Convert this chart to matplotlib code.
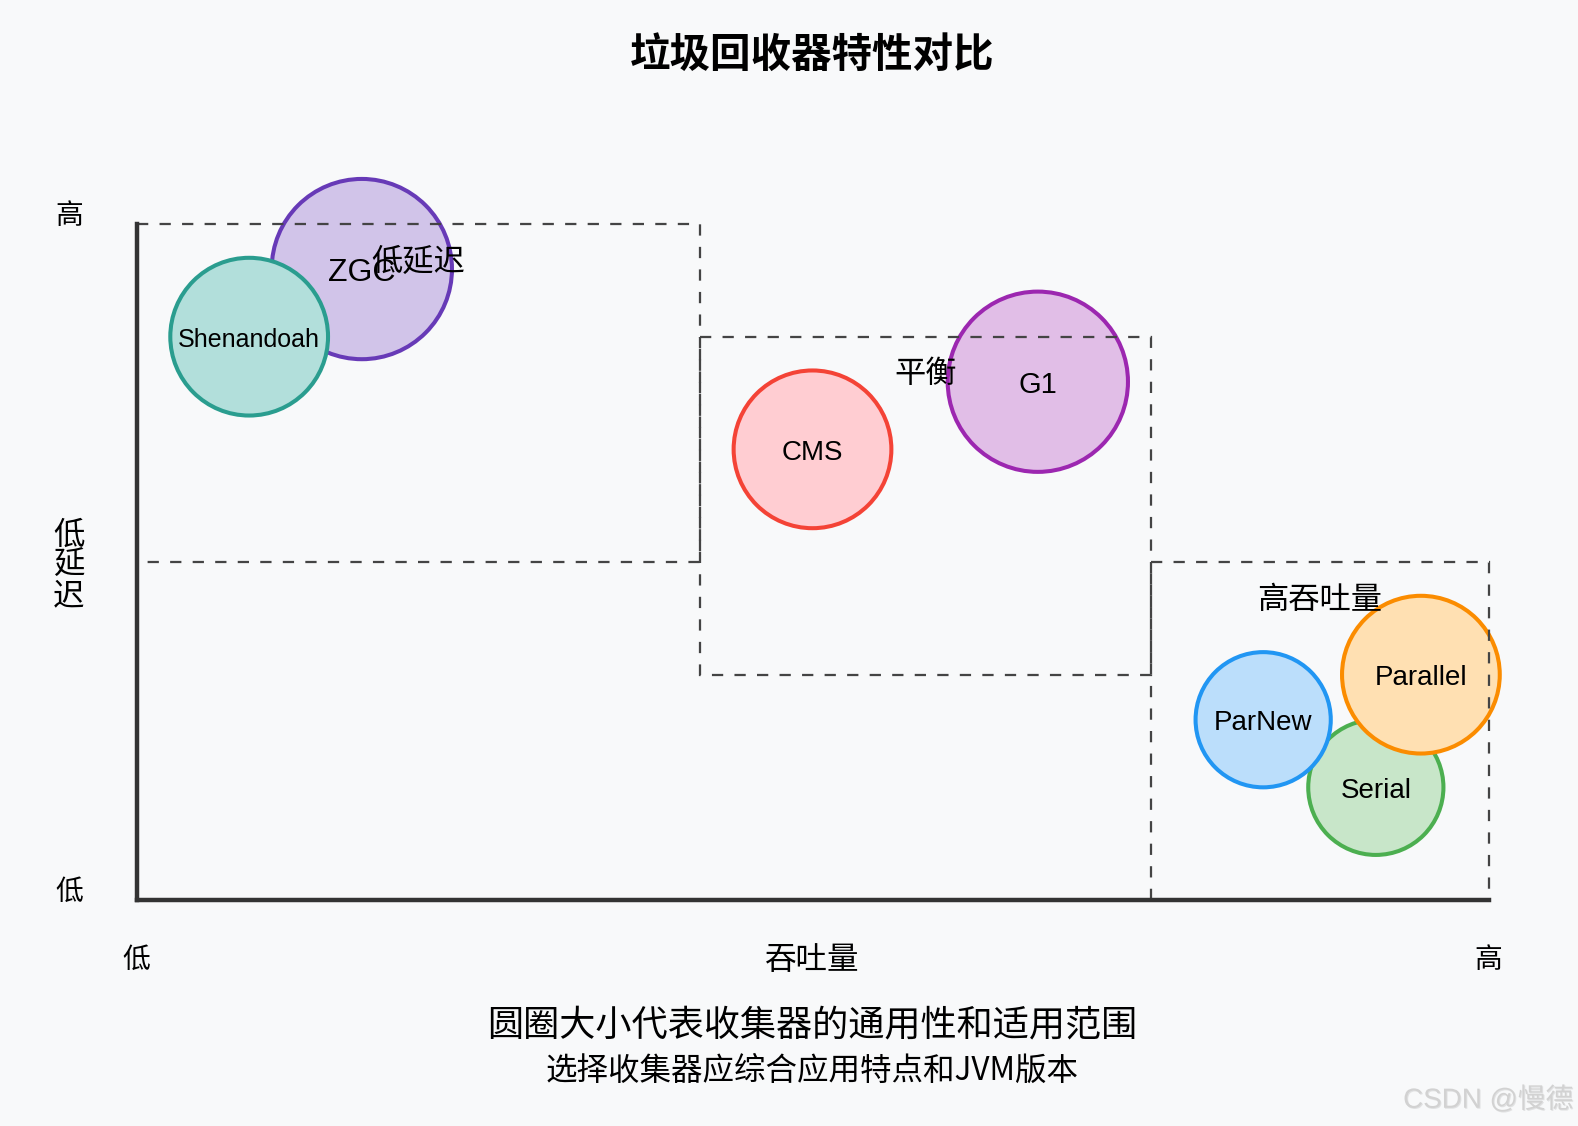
import matplotlib
matplotlib.use('Agg')
import matplotlib.pyplot as plt
from matplotlib.patches import Circle
from matplotlib import patheffects as pe

CJK = ['Noto Sans CJK SC', 'DejaVu Sans']
LATIN = ['Liberation Sans', 'Noto Sans CJK SC', 'DejaVu Sans']

# ---------------- data ----------------
title = '垃圾回收器特性对比'
collectors = ['ZGC', 'Shenandoah', 'CMS', 'G1', 'Serial', 'ParNew', 'Parallel']
throughput = [100, 50, 300, 400, 550, 500, 570]
latency = [280, 250, 200, 230, 50, 80, 100]
radius = [40, 35, 35, 40, 30, 30, 35]
label_size = [23, 18, 20, 21, 20, 20, 20]
fill_colors = ['#d1c4e9', '#b2dfdb', '#ffcdd2', '#e1bee7', '#c8e6c9', '#bbdefb', '#ffe0b2']
edge_colors = ['#673ab7', '#2a9d8f', '#f44336', '#9c27b0', '#4caf50', '#2196f3', '#fb8c00']

regions = ['低延迟', '平衡', '高吞吐量']
region_x0 = [0, 250, 450]
region_x1 = [250, 450, 600]
region_y0 = [150, 100, 0]
region_y1 = [300, 250, 150]

x_label = '吞吐量'
y_label = '低\n延\n迟'
low_text = '低'
high_text = '高'
note1 = '圆圈大小代表收集器的通用性和适用范围'
note2 = '选择收集器应综合应用特点和JVM版本'
watermark = 'CSDN @慢德'

# ---------------- figure ----------------
W, H = 1578, 1126
BG = '#f8f9fa'
fig = plt.figure(figsize=(W / 100, H / 100), dpi=100, facecolor=BG)
ax = fig.add_axes([136.5 / W, (H - 900) / H, 1352 / W, 676 / H])
ax.set_xlim(0, 600)
ax.set_ylim(0, 300)
ax.set_facecolor('none')
for s in ['top', 'right']:
    ax.spines[s].set_visible(False)
for s in ['left', 'bottom']:
    ax.spines[s].set_color('#333333')
    ax.spines[s].set_linewidth(3.2)
    ax.spines[s].set_zorder(6)
ax.set_xticks([])
ax.set_yticks([])

unit_pt = 1352 / 600 * 0.72  # one data unit in points

# circles
for i, name in enumerate(collectors):
    c = Circle((throughput[i], latency[i]), radius[i], facecolor=fill_colors[i],
               edgecolor=edge_colors[i], linewidth=2 * unit_pt * 0.9, zorder=2 + i * 0.01,
               clip_on=False)
    ax.add_patch(c)
    ax.text(throughput[i], latency[i] - 1.6, name, ha='center', va='center',
            fontsize=label_size[i], family=LATIN, color='#000000', zorder=3, clip_on=False)

# dashed region rectangles (path order: top-left, clockwise)
for i, r in enumerate(regions):
    x0, x1, y0, y1 = region_x0[i], region_x1[i], region_y0[i], region_y1[i]
    ax.plot([x0, x1, x1, x0, x0], [y1, y1, y0, y0, y1], color='#444444',
            linewidth=unit_pt, linestyle=(0, (5, 5)), dash_joinstyle='miter',
            zorder=4, clip_on=False)
    ax.text((x0 + x1) / 2, y1 - 16.7, r, ha='center', va='center', fontsize=22.5,
            family=CJK, color='#000000', zorder=5, clip_on=False)

# axis annotations
ax.text(0, -26.6, low_text, ha='center', va='center', fontsize=20, family=CJK, clip_on=False)
ax.text(600, -26.6, high_text, ha='center', va='center', fontsize=20, family=CJK, clip_on=False)
ax.text(300, -26.6, x_label, ha='center', va='center', fontsize=22.7, family=CJK, clip_on=False)
ax.text(-30, 303.5, high_text, ha='center', va='center', fontsize=20, family=CJK, clip_on=False)
ax.text(-30, 3.5, low_text, ha='center', va='center', fontsize=20, family=CJK, clip_on=False)
ax.text(-30, 148.6, y_label, ha='center', va='center', fontsize=22.7, family=CJK,
        linespacing=0.95, clip_on=False)

# title and notes
ax.text(300, 374.8, title, ha='center', va='center', fontsize=29.2, fontweight='bold',
        family=CJK, clip_on=False)
ax.text(300, -55.6, note1, ha='center', va='center', fontsize=26, family=CJK, clip_on=False)
ax.text(300, -75.9, note2, ha='center', va='center', fontsize=22.7, family=CJK, clip_on=False)

# watermark
fig.text(1573 / W, 1 - 1100 / H, watermark, ha='right', va='center', fontsize=20,
         family=LATIN, color='#d2d2d2',
         path_effects=[pe.withSimplePatchShadow(offset=(0.7, -0.7), shadow_rgbFace='#888888',
                                                alpha=0.2)])

fig.savefig('out.png', dpi=100, facecolor=BG)
